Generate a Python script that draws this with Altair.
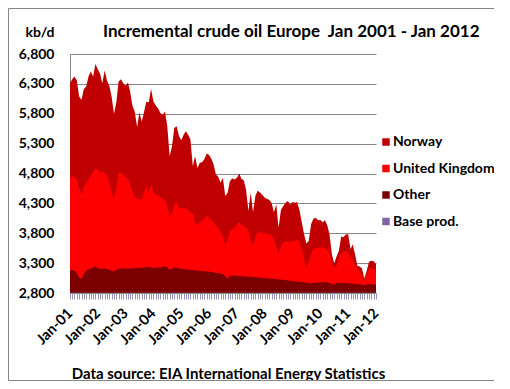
import altair as alt
import pandas as pd

# Stacked levels (kb/d), monthly Jan 2001 .. Jan 2012
norway_top = [6311, 6383, 6422, 6356, 6089, 6033, 6211, 6256, 6422, 6506, 6422, 6633, 6544, 6467, 6311, 6522,
              6356, 6267, 6089, 5800, 5989, 6339, 6378, 6311, 6267, 6322, 6172, 5933, 5833, 5578, 5822, 5672,
              5839, 6006, 5989, 6217, 6006, 5939, 5894, 5811, 5783, 5839, 5589, 5089, 5256, 5561, 5589, 5433,
              5356, 5450, 5506, 5450, 5367, 4922, 5089, 4894, 4978, 4989, 5044, 5133, 5111, 5044, 4950, 4783,
              4744, 4644, 4728, 4422, 4478, 4672, 4722, 4700, 4728, 4800, 4711, 4689, 4533, 4172, 4478, 4156,
              4428, 4511, 4483, 4439, 4400, 4372, 4361, 4306, 4150, 4280, 3894, 4189, 4256, 4311, 4339, 4283,
              4322, 4311, 4322, 4189, 3989, 3783, 3628, 3672, 3950, 4044, 4061, 4017, 4022, 3978, 4022, 3933,
              3783, 3450, 3300, 3411, 3506, 3744, 3733, 3778, 3783, 3533, 3617, 3450, 3256, 3244, 3211, 3044,
              3172, 3322, 3339, 3333, 3283]
uk_top = [4728, 4756, 4739, 4689, 4561, 4450, 4578, 4644, 4700, 4767, 4822, 4894, 4867, 4800, 4833, 4811,
          4767, 4656, 4489, 4367, 4561, 4811, 4811, 4783, 4733, 4722, 4617, 4506, 4394, 4378, 4383, 4356,
          4489, 4600, 4489, 4633, 4478, 4450, 4433, 4411, 4383, 4344, 4256, 4089, 4133, 4267, 4328, 4217,
          4222, 4228, 4222, 4194, 4144, 4133, 3978, 3933, 3989, 4017, 4050, 4089, 4067, 4022, 3978, 3922,
          3894, 3822, 3756, 3600, 3689, 3839, 3867, 3894, 3944, 3978, 3933, 3922, 3894, 3839, 3672, 3600,
          3728, 3839, 3811, 3811, 3800, 3783, 3783, 3767, 3700, 3578, 3450, 3578, 3644, 3656, 3667, 3661,
          3667, 3678, 3689, 3656, 3533, 3378, 3228, 3322, 3450, 3533, 3561, 3550, 3561, 3561, 3556, 3533,
          3450, 3283, 3228, 3256, 3389, 3467, 3489, 3506, 3461, 3417, 3361, 3267, 3189, 3161, 3117, 3017,
          3117, 3211, 3211, 3200, 3172]
other_top = [3189, 3183, 3172, 3133, 3061, 3033, 3117, 3172, 3200, 3211, 3228, 3244, 3222, 3200, 3206, 3211,
             3200, 3189, 3172, 3156, 3189, 3211, 3211, 3211, 3211, 3211, 3211, 3211, 3217, 3217, 3222, 3222,
             3228, 3233, 3239, 3228, 3222, 3222, 3228, 3233, 3239, 3244, 3233, 3183, 3211, 3228, 3222, 3211,
             3206, 3200, 3194, 3194, 3189, 3183, 3178, 3172, 3172, 3167, 3161, 3161, 3156, 3150, 3144, 3139,
             3133, 3128, 3117, 3078, 3044, 3089, 3094, 3089, 3089, 3083, 3083, 3078, 3078, 3072, 3072, 3067,
             3067, 3061, 3056, 3056, 3050, 3044, 3044, 3039, 3033, 3033, 3028, 3022, 3022, 3017, 3011, 3006,
             3000, 2994, 2994, 2989, 2983, 2978, 2972, 2967, 2961, 2967, 2972, 2978, 2978, 2978, 2978, 2978,
             2967, 2950, 2939, 2972, 2972, 2967, 2967, 2967, 2961, 2961, 2956, 2950, 2950, 2944, 2944, 2933,
             2944, 2950, 2944, 2944, 2939]
base_top = [2806] * 133

series_names = ["Norway", "United Kingdom", "Other", "Base prod."]
series_colors = ["#C00000", "#FF0000", "#7B0000", "#8064A2"]
y_ticks = [2800, 3300, 3800, 4300, 4800, 5300, 5800, 6300, 6800]

dates = pd.date_range("2001-01-01", periods=133, freq="MS")
levels = {"Norway": norway_top, "United Kingdom": uk_top, "Other": other_top, "Base prod.": base_top}
rows = []
for name in series_names:
    for d, v in zip(dates, levels[name]):
        rows.append({"date": d.strftime("%Y-%m-%d"), "series": name, "level": v})
df = pd.DataFrame(rows)

FONT = "Lato"
GRID = "#868686"

color = alt.Color("series:N",
                  scale=alt.Scale(domain=series_names, range=series_colors),
                  legend=alt.Legend(title=None, orient="none", legendX=309, legendY=81,
                                    symbolType="square", symbolSize=56, symbolStrokeWidth=0,
                                    labelFont=FONT, labelFontSize=14, labelFontWeight="bold",
                                    labelColor="black", rowPadding=12.5, labelOffset=0,
                                    padding=0))

x = alt.X("date:T",
          scale=alt.Scale(nice=False),
          axis=alt.Axis(title="Data source: EIA International Energy Statistics",
                        titleFont=FONT, titleFontSize=15, titleFontWeight="bold", titleColor="black",
                        titleX=158, titleY=80, titleAlign="center", titleBaseline="middle",
                        tickCount={"interval": "month", "step": 1},
                        labelExpr="month(datum.value) == 0 ? timeFormat(datum.value, '%b-%y') : ''",
                        labelOverlap=False, labelFlush=False, labelBound=False,
                        labelAngle=-45, labelAlign="right", labelBaseline="middle",
                        labelFont=FONT, labelFontSize=14.5, labelFontWeight="bold", labelColor="black",
                        labelPadding=12, tickSize=6, tickColor="#9a90b8", domainColor=GRID,
                        grid=False))
y = alt.Y("level:Q",
          scale=alt.Scale(domain=[2800, 6800], nice=False, zero=False),
          axis=alt.Axis(values=y_ticks, format=",.0f", title="kb/d",
                        titleAngle=0, titleX=-16, titleY=-22, titleAlign="right", titleBaseline="middle",
                        titleFont=FONT, titleFontSize=14, titleFontWeight="bold", titleColor="black",
                        labelFont=FONT, labelFontSize=14, labelFontWeight="bold", labelColor="black",
                        labelPadding=16, ticks=False, domainColor=GRID, gridColor=GRID))

layers = []
for name in series_names:
    layers.append(
        alt.Chart(df).transform_filter(alt.datum.series == name)
        .mark_area(opacity=1, interpolate="linear")
        .encode(x=x, y=y, y2=alt.datum(2800), color=color)
    )

title_df = pd.DataFrame({"t": ["Incremental crude oil Europe\u00a0 Jan 2001 - Jan 2012"]})
title = alt.Chart(title_df).mark_text(align="left", baseline="middle", font=FONT, fontSize=17,
                                      fontWeight="bold", color="black").encode(
    x=alt.value(33), y=alt.value(-22), text="t:N")

border = alt.Chart(title_df).mark_rect(fill=None, stroke=GRID, strokeWidth=1).encode(
    x=alt.value(-61.5), x2=alt.value(425.5), y=alt.value(-45.5), y2=alt.value(326.5))

chart = alt.layer(*layers, title, border).properties(
    width=306, height=239,
    autosize=alt.AutoSizeParams(type="none"),
    padding={"left": 62, "top": 46, "right": 118, "bottom": 88},
).configure_view(stroke=None)

chart.save("out.html", embed_options={"renderer": "svg", "actions": False})
